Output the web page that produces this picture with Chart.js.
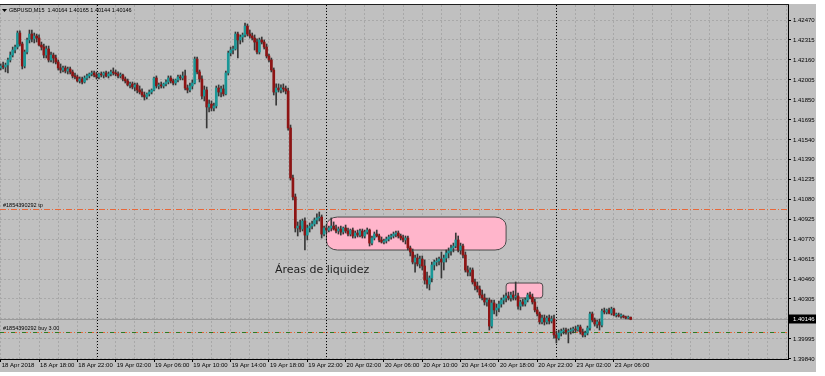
<!DOCTYPE html>
<html>
<head>
<meta charset="utf-8">
<script src="https://cdn.jsdelivr.net/npm/chart.js@4.4.1/dist/chart.umd.min.js"></script>
<style>
    html, body { margin: 0; padding: 0; background: #ffffff; }
    canvas { display: block; }
</style>
</head>
<body>
<canvas id="chart" width="825" height="376"></canvas>
<script>
// GBPUSD M15 - velas de 15 minutos desde 18 Apr 14:00 (una vela por índice)
const symbol = 'GBPUSD,M15';

const opens = [
    1.42098, 1.42113, 1.42105, 1.42121, 1.42160, 1.42198, 1.42237, 1.42260, 1.42369, 1.42284,
    1.42113, 1.42222, 1.42315, 1.42361, 1.42323, 1.42346, 1.42330, 1.42276, 1.42260, 1.42198,
    1.42245, 1.42160, 1.42198, 1.42175, 1.42144, 1.42098, 1.42082, 1.42098, 1.42074, 1.42090,
    1.42067, 1.42036, 1.42028, 1.41997, 1.42012, 1.41989, 1.42020, 1.42036, 1.42051, 1.42059,
    1.42043, 1.42028, 1.42051, 1.42043, 1.42059, 1.42036, 1.42051, 1.42067, 1.42059, 1.42051,
    1.42036, 1.42043, 1.42012, 1.41997, 1.41966, 1.41974, 1.41950, 1.41966, 1.41927, 1.41911,
    1.41888, 1.41873, 1.41896, 1.41911, 1.41927, 1.42020, 1.41958, 1.41966, 1.41958, 1.41974,
    1.41989, 1.42020, 1.41997, 1.41981, 1.42005, 1.42028, 1.42020, 1.42036, 1.41942, 1.41927,
    1.41958, 1.41981, 1.42167, 1.42067, 1.42012, 1.41880, 1.41927, 1.41795, 1.41818, 1.41787,
    1.41803, 1.41942, 1.41911, 1.41935, 1.41896, 1.42059, 1.42214, 1.42237, 1.42245, 1.42361,
    1.42315, 1.42338, 1.42354, 1.42423, 1.42361, 1.42346, 1.42330, 1.42299, 1.42222, 1.42315,
    1.42299, 1.42260, 1.42191, 1.42160, 1.42082, 1.41911, 1.41942, 1.41927, 1.41942, 1.41935,
    1.41919, 1.41632, 1.41244, 1.41097, 1.40856, 1.40871, 1.40848, 1.40910, 1.40801, 1.40856,
    1.40871, 1.40887, 1.40918, 1.40934, 1.40941, 1.40809, 1.40856, 1.40840, 1.40856, 1.40871,
    1.40848, 1.40833, 1.40848, 1.40825, 1.40856, 1.40833, 1.40809, 1.40840, 1.40794, 1.40817,
    1.40801, 1.40833, 1.40794, 1.40825, 1.40840, 1.40739, 1.40778, 1.40809, 1.40794, 1.40763,
    1.40747, 1.40755, 1.40770, 1.40786, 1.40794, 1.40809, 1.40817, 1.40794, 1.40778, 1.40763,
    1.40778, 1.40701, 1.40670, 1.40592, 1.40623, 1.40577, 1.40615, 1.40561, 1.40452, 1.40421,
    1.40468, 1.40569, 1.40592, 1.40600, 1.40615, 1.40592, 1.40623, 1.40662, 1.40677, 1.40701,
    1.40716, 1.40763, 1.40685, 1.40716, 1.40646, 1.40530, 1.40514, 1.40530, 1.40437, 1.40406,
    1.40382, 1.40336, 1.40313, 1.40282, 1.40297, 1.40095, 1.40274, 1.40220, 1.40235, 1.40266,
    1.40297, 1.40313, 1.40328, 1.40313, 1.40336, 1.40320, 1.40328, 1.40250, 1.40282, 1.40266,
    1.40297, 1.40336, 1.40320, 1.40282, 1.40220, 1.40189, 1.40127, 1.40157, 1.40127, 1.40157,
    1.40134, 1.40150, 1.40026, 1.40002, 1.40041, 1.40056, 1.40064, 1.40049, 1.40056, 1.40064,
    1.40072, 1.40064, 1.40088, 1.40049, 1.40026, 1.40041, 1.40080, 1.40189, 1.40142, 1.40111,
    1.40127, 1.40103, 1.40212, 1.40204, 1.40220, 1.40196, 1.40227, 1.40181, 1.40181, 1.40173,
    1.40173, 1.40165, 1.40157, 1.40164
];

const highs = [
    1.42129, 1.42144, 1.42136, 1.42175, 1.42222, 1.42260, 1.42276, 1.42385, 1.42385, 1.42299,
    1.42237, 1.42330, 1.42392, 1.42392, 1.42369, 1.42361, 1.42354, 1.42299, 1.42284, 1.42268,
    1.42268, 1.42222, 1.42214, 1.42198, 1.42160, 1.42129, 1.42113, 1.42113, 1.42105, 1.42105,
    1.42082, 1.42059, 1.42043, 1.42028, 1.42028, 1.42036, 1.42051, 1.42059, 1.42074, 1.42074,
    1.42067, 1.42059, 1.42067, 1.42067, 1.42074, 1.42067, 1.42082, 1.42098, 1.42082, 1.42067,
    1.42059, 1.42051, 1.42028, 1.42012, 1.41989, 1.41989, 1.41981, 1.41981, 1.41958, 1.41935,
    1.41911, 1.41904, 1.41927, 1.41935, 1.42028, 1.42036, 1.41981, 1.41989, 1.41981, 1.42005,
    1.42036, 1.42036, 1.42012, 1.42012, 1.42043, 1.42043, 1.42067, 1.42082, 1.41966, 1.41981,
    1.42005, 1.42183, 1.42183, 1.42082, 1.42036, 1.41958, 1.41950, 1.41849, 1.41842, 1.41826,
    1.41958, 1.41966, 1.41958, 1.41966, 1.42074, 1.42229, 1.42260, 1.42268, 1.42377, 1.42377,
    1.42354, 1.42369, 1.42447, 1.42439, 1.42392, 1.42369, 1.42354, 1.42323, 1.42330, 1.42338,
    1.42315, 1.42284, 1.42206, 1.42175, 1.42098, 1.41974, 1.41974, 1.41966, 1.41974, 1.41958,
    1.41942, 1.41655, 1.41267, 1.41120, 1.40903, 1.40918, 1.40926, 1.40934, 1.40879, 1.40895,
    1.40910, 1.40934, 1.40965, 1.40980, 1.40957, 1.40871, 1.40879, 1.40871, 1.40934, 1.40903,
    1.40879, 1.40864, 1.40871, 1.40864, 1.40879, 1.40856, 1.40848, 1.40856, 1.40833, 1.40840,
    1.40848, 1.40848, 1.40840, 1.40856, 1.40848, 1.40794, 1.40825, 1.40840, 1.40809, 1.40786,
    1.40770, 1.40786, 1.40801, 1.40809, 1.40825, 1.40833, 1.40833, 1.40809, 1.40801, 1.40794,
    1.40794, 1.40716, 1.40693, 1.40646, 1.40654, 1.40639, 1.40639, 1.40608, 1.40514, 1.40484,
    1.40592, 1.40608, 1.40623, 1.40631, 1.40670, 1.40646, 1.40685, 1.40701, 1.40724, 1.40739,
    1.40817, 1.40794, 1.40739, 1.40732, 1.40670, 1.40561, 1.40546, 1.40546, 1.40460, 1.40437,
    1.40406, 1.40375, 1.40344, 1.40313, 1.40313, 1.40297, 1.40297, 1.40266, 1.40289, 1.40313,
    1.40336, 1.40351, 1.40359, 1.40359, 1.40367, 1.40437, 1.40351, 1.40297, 1.40305, 1.40313,
    1.40351, 1.40359, 1.40344, 1.40305, 1.40242, 1.40204, 1.40181, 1.40181, 1.40173, 1.40181,
    1.40173, 1.40181, 1.40056, 1.40064, 1.40072, 1.40080, 1.40080, 1.40072, 1.40080, 1.40088,
    1.40095, 1.40103, 1.40103, 1.40072, 1.40056, 1.40095, 1.40204, 1.40204, 1.40157, 1.40142,
    1.40150, 1.40227, 1.40235, 1.40227, 1.40235, 1.40242, 1.40235, 1.40196, 1.40196, 1.40189,
    1.40181, 1.40173, 1.40173, 1.40165
];

const lows = [
    1.42082, 1.42090, 1.42067, 1.42059, 1.42144, 1.42183, 1.42214, 1.42245, 1.42268, 1.42090,
    1.42098, 1.42206, 1.42292, 1.42299, 1.42292, 1.42299, 1.42268, 1.42237, 1.42175, 1.42175,
    1.42144, 1.42144, 1.42136, 1.42129, 1.42082, 1.42059, 1.42067, 1.42059, 1.42051, 1.42051,
    1.42020, 1.42012, 1.41989, 1.41981, 1.41974, 1.41981, 1.42005, 1.42020, 1.42036, 1.42028,
    1.42012, 1.42012, 1.42028, 1.42020, 1.42028, 1.42020, 1.42036, 1.42043, 1.42036, 1.42020,
    1.42020, 1.41997, 1.41981, 1.41958, 1.41942, 1.41935, 1.41919, 1.41904, 1.41896, 1.41873,
    1.41849, 1.41857, 1.41880, 1.41896, 1.41919, 1.41942, 1.41935, 1.41942, 1.41942, 1.41958,
    1.41974, 1.41981, 1.41966, 1.41966, 1.41989, 1.42005, 1.42005, 1.41927, 1.41904, 1.41911,
    1.41935, 1.41974, 1.42051, 1.41989, 1.41857, 1.41842, 1.41632, 1.41756, 1.41764, 1.41764,
    1.41787, 1.41880, 1.41873, 1.41880, 1.41888, 1.42043, 1.42191, 1.42206, 1.42237, 1.42175,
    1.42284, 1.42299, 1.42338, 1.42346, 1.42330, 1.42315, 1.42237, 1.42206, 1.42206, 1.42284,
    1.42245, 1.42175, 1.42144, 1.42067, 1.41888, 1.41810, 1.41911, 1.41904, 1.41911, 1.41896,
    1.41616, 1.41228, 1.41073, 1.40825, 1.40794, 1.40825, 1.40833, 1.40685, 1.40763, 1.40825,
    1.40848, 1.40871, 1.40887, 1.40910, 1.40778, 1.40794, 1.40817, 1.40825, 1.40833, 1.40840,
    1.40817, 1.40809, 1.40801, 1.40809, 1.40817, 1.40794, 1.40794, 1.40778, 1.40778, 1.40786,
    1.40786, 1.40778, 1.40778, 1.40809, 1.40716, 1.40724, 1.40763, 1.40786, 1.40747, 1.40739,
    1.40732, 1.40739, 1.40755, 1.40770, 1.40778, 1.40786, 1.40778, 1.40763, 1.40747, 1.40732,
    1.40685, 1.40639, 1.40577, 1.40514, 1.40561, 1.40546, 1.40530, 1.40421, 1.40390, 1.40375,
    1.40437, 1.40530, 1.40561, 1.40569, 1.40468, 1.40530, 1.40592, 1.40623, 1.40646, 1.40670,
    1.40701, 1.40670, 1.40654, 1.40623, 1.40514, 1.40484, 1.40484, 1.40421, 1.40375, 1.40359,
    1.40313, 1.40297, 1.40258, 1.40250, 1.40064, 1.40080, 1.40189, 1.40173, 1.40204, 1.40242,
    1.40266, 1.40282, 1.40297, 1.40289, 1.40297, 1.40297, 1.40227, 1.40220, 1.40250, 1.40250,
    1.40282, 1.40305, 1.40266, 1.40204, 1.40173, 1.40111, 1.40111, 1.40103, 1.40111, 1.40111,
    1.40119, 1.40002, 1.39964, 1.39987, 1.40018, 1.40033, 1.40033, 1.39964, 1.40033, 1.40041,
    1.40049, 1.40056, 1.40033, 1.40010, 1.40010, 1.40026, 1.40064, 1.40127, 1.40095, 1.40080,
    1.40064, 1.40088, 1.40189, 1.40189, 1.40189, 1.40181, 1.40173, 1.40165, 1.40165, 1.40157,
    1.40157, 1.40150, 1.40150, 1.40144
];

const closes = [
    1.42113, 1.42105, 1.42121, 1.42160, 1.42198, 1.42237, 1.42260, 1.42369, 1.42284, 1.42113,
    1.42222, 1.42315, 1.42361, 1.42323, 1.42346, 1.42330, 1.42276, 1.42260, 1.42198, 1.42245,
    1.42160, 1.42198, 1.42175, 1.42144, 1.42098, 1.42082, 1.42098, 1.42074, 1.42090, 1.42067,
    1.42036, 1.42028, 1.41997, 1.42012, 1.41989, 1.42020, 1.42036, 1.42051, 1.42059, 1.42043,
    1.42028, 1.42051, 1.42043, 1.42059, 1.42036, 1.42051, 1.42067, 1.42059, 1.42051, 1.42036,
    1.42043, 1.42012, 1.41997, 1.41966, 1.41974, 1.41950, 1.41966, 1.41927, 1.41911, 1.41888,
    1.41873, 1.41896, 1.41911, 1.41927, 1.42020, 1.41958, 1.41966, 1.41958, 1.41974, 1.41989,
    1.42020, 1.41997, 1.41981, 1.42005, 1.42028, 1.42020, 1.42036, 1.41942, 1.41927, 1.41958,
    1.41981, 1.42167, 1.42067, 1.42012, 1.41880, 1.41927, 1.41795, 1.41818, 1.41787, 1.41803,
    1.41942, 1.41911, 1.41935, 1.41896, 1.42059, 1.42214, 1.42237, 1.42245, 1.42361, 1.42315,
    1.42338, 1.42354, 1.42423, 1.42361, 1.42346, 1.42330, 1.42299, 1.42222, 1.42315, 1.42299,
    1.42260, 1.42191, 1.42160, 1.42082, 1.41911, 1.41942, 1.41927, 1.41942, 1.41935, 1.41919,
    1.41632, 1.41244, 1.41097, 1.40856, 1.40871, 1.40848, 1.40910, 1.40801, 1.40856, 1.40871,
    1.40887, 1.40918, 1.40934, 1.40941, 1.40809, 1.40856, 1.40840, 1.40856, 1.40871, 1.40848,
    1.40833, 1.40848, 1.40825, 1.40856, 1.40833, 1.40809, 1.40840, 1.40794, 1.40817, 1.40801,
    1.40833, 1.40794, 1.40825, 1.40840, 1.40739, 1.40778, 1.40809, 1.40794, 1.40763, 1.40747,
    1.40755, 1.40770, 1.40786, 1.40794, 1.40809, 1.40817, 1.40794, 1.40778, 1.40763, 1.40778,
    1.40701, 1.40670, 1.40592, 1.40623, 1.40577, 1.40615, 1.40561, 1.40452, 1.40421, 1.40468,
    1.40569, 1.40592, 1.40600, 1.40615, 1.40592, 1.40623, 1.40662, 1.40677, 1.40701, 1.40716,
    1.40763, 1.40685, 1.40716, 1.40646, 1.40530, 1.40514, 1.40530, 1.40437, 1.40406, 1.40382,
    1.40336, 1.40313, 1.40282, 1.40297, 1.40095, 1.40274, 1.40220, 1.40235, 1.40266, 1.40297,
    1.40313, 1.40328, 1.40313, 1.40336, 1.40320, 1.40328, 1.40250, 1.40282, 1.40266, 1.40297,
    1.40336, 1.40320, 1.40282, 1.40220, 1.40189, 1.40127, 1.40157, 1.40127, 1.40157, 1.40134,
    1.40150, 1.40026, 1.40002, 1.40041, 1.40056, 1.40064, 1.40049, 1.40056, 1.40064, 1.40072,
    1.40064, 1.40088, 1.40049, 1.40026, 1.40041, 1.40080, 1.40189, 1.40142, 1.40111, 1.40127,
    1.40103, 1.40212, 1.40204, 1.40220, 1.40196, 1.40227, 1.40181, 1.40181, 1.40173, 1.40173,
    1.40165, 1.40157, 1.40165, 1.40146
];

// Etiquetas del eje de tiempo, una cada 16 velas (4 horas)
const timeLabels = [
    '18 Apr 2018', '18 Apr 18:00', '18 Apr 22:00', '19 Apr 02:00', '19 Apr 06:00',
    '19 Apr 10:00', '19 Apr 14:00', '19 Apr 18:00', '19 Apr 22:00', '20 Apr 02:00',
    '20 Apr 06:00', '20 Apr 10:00', '20 Apr 14:00', '20 Apr 18:00', '20 Apr 22:00',
    '23 Apr 02:00', '23 Apr 06:00'
];
const barsPerLabel = 16;
const barsPerGrid = 8;

// Escala de precios (eje derecho)
const priceTicks = [
    1.42470, 1.42315, 1.42160, 1.42005, 1.41850, 1.41695, 1.41540, 1.41390, 1.41235,
    1.41080, 1.40925, 1.40770, 1.40615, 1.40460, 1.40305, 1.40150, 1.39995, 1.39840
];
const priceMin = 1.398394;
const priceMax = 1.425864;
const barMin = -0.3;
const barMax = 328.7;

// Separadores de día (índice de vela a las 00:00)
const daySeparators = [40, 136, 232];

// Orden abierta
const orderTicket = '#1854390292';
const tpPrice = 1.41000;
const buyPrice = 1.40050;
const buyLabel = 'buy 3.00';

// Zonas marcadas a mano
const zoneStart = [136, 211];
const zoneEnd = [211, 226.3];
const zoneTop = [1.40941, 1.40429];
const zoneBottom = [1.40685, 1.40313];
const noteText = 'Áreas de liquidez';
const noteBar = 114.5;
const notePrice = 1.40507;

const colors = {
    panel: '#c0c0c0',
    grid: '#a8a8a8',
    bull: '#1a9797',
    bear: '#8e1414',
    wick: '#383838',
    frame: '#202020',
    order: '#e8683a',
    orderGreen: '#2e7a22',
    bid: '#9a9a9a',
    zone: '#ffb5cb',
    zoneBorder: '#4a4a4a'
};

const last = closes.length - 1;
const bidPrice = closes[last];

const bodyData = opens.map((o, i) => ({ x: i, y: [Math.min(o, closes[i]), Math.max(o, closes[i])] }));
const wickData = lows.map((l, i) => ({ x: i, y: [l, highs[i]] }));
const bodyColors = opens.map((o, i) => closes[i] >= o ? colors.bull : colors.bear);

function ovalRect(ctx, x0, y0, x1, y1, rx, ry) {
    ctx.beginPath();
    ctx.moveTo(x0 + rx, y0);
    ctx.lineTo(x1 - rx, y0);
    ctx.ellipse(x1 - rx, y0 + ry, rx, ry, 0, -Math.PI / 2, 0);
    ctx.lineTo(x1, y1 - ry);
    ctx.ellipse(x1 - rx, y1 - ry, rx, ry, 0, 0, Math.PI / 2);
    ctx.lineTo(x0 + rx, y1);
    ctx.ellipse(x0 + rx, y1 - ry, rx, ry, 0, Math.PI / 2, Math.PI);
    ctx.lineTo(x0, y0 + ry);
    ctx.ellipse(x0 + rx, y0 + ry, rx, ry, 0, Math.PI, Math.PI * 1.5);
    ctx.closePath();
}

function hLine(ctx, area, y, color, dash) {
    ctx.strokeStyle = color;
    ctx.setLineDash(dash);
    ctx.beginPath();
    ctx.moveTo(area.left, Math.round(y) + 0.5);
    ctx.lineTo(area.right, Math.round(y) + 0.5);
    ctx.stroke();
}

const terminal = {
    id: 'terminal',
    beforeDraw(chart) {
        const ctx = chart.ctx;
        ctx.save();
        ctx.fillStyle = '#ffffff';
        ctx.fillRect(0, 0, chart.width, chart.height);
        ctx.fillStyle = colors.panel;
        ctx.fillRect(0, 4, 816, 368);
        ctx.restore();
    },
    beforeDatasetsDraw(chart) {
        const { ctx, chartArea: a, scales: { x, y } } = chart;
        ctx.save();
        ctx.beginPath();
        ctx.rect(a.left, a.top, a.right - a.left, a.bottom - a.top);
        ctx.clip();

        // zonas rosas
        zoneStart.forEach((s, i) => {
            const x0 = x.getPixelForValue(s), x1 = x.getPixelForValue(zoneEnd[i]);
            const y0 = y.getPixelForValue(zoneTop[i]), y1 = y.getPixelForValue(zoneBottom[i]);
            const r = i === 0 ? [11, 9] : [3, 3];
            ovalRect(ctx, x0, y0, x1, y1, r[0], r[1]);
            ctx.fillStyle = colors.zone;
            ctx.fill();
            ctx.lineWidth = 1;
            ctx.strokeStyle = colors.zoneBorder;
            ctx.stroke();
        });

        // separadores de día
        ctx.lineWidth = 1;
        ctx.strokeStyle = '#000000';
        ctx.setLineDash([1, 2]);
        daySeparators.forEach(d => {
            const px = Math.round(x.getPixelForValue(d)) + 0.5;
            ctx.beginPath();
            ctx.moveTo(px, a.top);
            ctx.lineTo(px, a.bottom);
            ctx.stroke();
        });

        // línea bid
        hLine(ctx, a, y.getPixelForValue(bidPrice), colors.bid, []);

        // líneas de la orden
        const yTp = y.getPixelForValue(tpPrice);
        const yBuy = y.getPixelForValue(buyPrice);
        hLine(ctx, a, yTp, colors.order, [6, 2, 1, 2]);
        hLine(ctx, a, yBuy, colors.order, [6, 2, 1, 2]);
        hLine(ctx, a, yBuy, colors.orderGreen, [4, 7]);

        ctx.setLineDash([]);
        ctx.fillStyle = '#000000';
        ctx.font = '5.5px "Liberation Sans", Arial, sans-serif';
        ctx.textBaseline = 'alphabetic';
        ctx.fillText(orderTicket + ' tp', 3, Math.round(yTp) - 2);
        ctx.fillText(orderTicket + ' ' + buyLabel, 3, Math.round(yBuy) - 2);
        ctx.restore();
    },
    afterDatasetsDraw(chart) {
        const { ctx, scales: { x, y } } = chart;
        ctx.save();
        ctx.fillStyle = '#1e1e1e';
        ctx.font = '11px "DejaVu Sans", sans-serif';
        ctx.textBaseline = 'alphabetic';
        ctx.fillText(noteText, x.getPixelForValue(noteBar), y.getPixelForValue(notePrice));
        ctx.restore();
    },
    afterDraw(chart) {
        const { ctx, chartArea: a, scales: { y } } = chart;
        ctx.save();
        // marco superior
        ctx.fillStyle = colors.frame;
        ctx.fillRect(0, 4, a.right + 1, 1);

        // cabecera
        ctx.fillStyle = '#000000';
        ctx.beginPath();
        ctx.moveTo(2, 9);
        ctx.lineTo(7, 9);
        ctx.lineTo(4.5, 12);
        ctx.closePath();
        ctx.fill();
        ctx.font = '5.5px "Liberation Sans", Arial, sans-serif';
        ctx.textBaseline = 'middle';
        const ohlc = [opens[last], highs[last], lows[last], closes[last]].map(v => v.toFixed(5)).join(' ');
        ctx.fillText(symbol + '  ' + ohlc, 9, 10.5);

        // etiqueta bid en el eje
        const yb = y.getPixelForValue(bidPrice);
        ctx.fillStyle = '#000000';
        ctx.fillRect(a.right + 1, Math.round(yb) - 4.5, 27, 9);
        ctx.fillStyle = '#ffffff';
        ctx.font = '6px "Liberation Sans", Arial, sans-serif';
        ctx.fillText(bidPrice.toFixed(5), a.right + 5, Math.round(yb));
        ctx.restore();
    }
};

new Chart(document.getElementById('chart'), {
    type: 'bar',
    data: {
        datasets: [{
            label: 'body',
            data: bodyData,
            backgroundColor: bodyColors,
            barThickness: 2,
            minBarLength: 1,
            grouped: false
        }, {
            label: 'wick',
            data: wickData,
            backgroundColor: colors.wick,
            barThickness: 1,
            grouped: false
        }]
    },
    options: {
        responsive: false,
        animation: false,
        events: [],
        layout: { padding: { top: 5, left: 0, right: 0, bottom: 0 } },
        plugins: {
            legend: { display: false },
            tooltip: { enabled: false }
        },
        scales: {
            x: {
                type: 'linear',
                min: barMin,
                max: barMax,
                offset: false,
                grid: {
                    offset: false,
                    color: colors.grid,
                    tickLength: 3,
                    tickColor: c => (c.tick && c.tick.value % barsPerLabel === 0 && c.tick.value / barsPerLabel < timeLabels.length) ? '#000000' : 'rgba(0,0,0,0)'
                },
                border: { display: true, color: '#000000', dash: [2, 2] },
                ticks: {
                    autoSkip: false,
                    maxRotation: 0,
                    minRotation: 0,
                    align: 'start',
                    labelOffset: 1,
                    padding: 0,
                    color: '#000000',
                    font: { family: '"Liberation Sans", Arial, sans-serif', size: 6 },
                    callback: v => (v % barsPerLabel === 0 && timeLabels[v / barsPerLabel]) ? timeLabels[v / barsPerLabel] : ''
                },
                afterBuildTicks: s => {
                    const t = [];
                    for (let v = 0; v <= barMax; v += barsPerGrid) t.push({ value: v });
                    s.ticks = t;
                },
                afterFit: s => {
                    s.height = 17;
                    s.paddingLeft = 0;
                    s.paddingRight = 0;
                }
            },
            y: {
                position: 'right',
                min: priceMin,
                max: priceMax,
                beginAtZero: false,
                grid: {
                    color: colors.grid,
                    tickLength: 3,
                    tickColor: '#000000'
                },
                border: { display: true, color: '#000000', dash: [2, 2] },
                ticks: {
                    autoSkip: false,
                    padding: 2,
                    color: '#000000',
                    font: { family: '"Liberation Sans", Arial, sans-serif', size: 6 },
                    callback: v => Math.abs(v - bidPrice) < 0.0001 ? '' : v.toFixed(5)
                },
                afterBuildTicks: s => {
                    s.ticks = priceTicks.map(v => ({ value: v }));
                },
                afterFit: s => {
                    s.width = 37;
                    s.paddingTop = 0;
                    s.paddingBottom = 0;
                }
            }
        }
    },
    plugins: [terminal]
});
</script>
</body>
</html>
